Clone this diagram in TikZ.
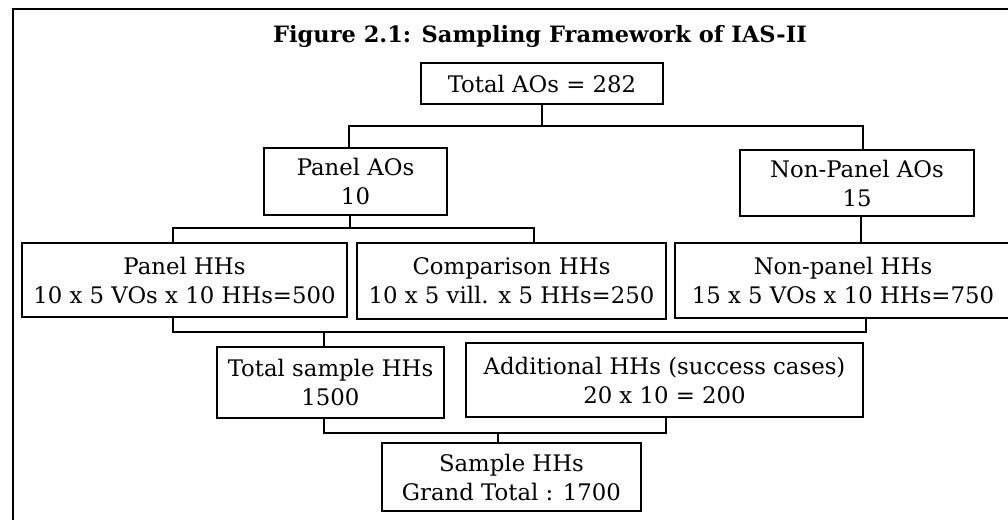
\documentclass[tikz,border=0pt]{standalone}
\usepackage{fontspec}
\setmainfont{DejaVu Serif}
\newfontfamily\headfont{DejaVu Serif}
\usetikzlibrary{calc}
\tikzset{
  box/.style={draw, line width=1.8pt, inner sep=0pt, align=center,
              font=\fontsize{22.8}{29}\selectfont},
  link/.style={line width=1.7pt},
  frame/.style={line width=2pt},
}
\begin{document}
\begin{tikzpicture}[x=1pt,y=-1pt]
  \useasboundingbox (0,0) rectangle (1008,519);
  \fill[white] (0,0) rectangle (1008,519);

  % outer frame (top and left edges)
  \draw[frame] (1012,9) -- (13,9) -- (13,523);

  % heading
  \node[anchor=base, inner sep=0pt,
        font=\headfont\fontsize{22.5}{26}\selectfont\bfseries] (title)
        at (540,42) {Figure 2.1: Sampling Framework of IAS-II};

  % boxes
  \node[box, minimum width=242pt, minimum height=41pt] (tot)  at (542,83.5)  {Total AOs = 282};
  \node[box, minimum width=183pt, minimum height=67pt] (pao)  at (355.5,181.5) {Panel AOs\\10};
  \node[box, minimum width=234pt, minimum height=66pt] (npao) at (857,183)   {Non-Panel AOs\\15};
  \node[box, minimum width=325pt, minimum height=74pt] (phh)  at (184.5,280) {Panel HHs\\10 x 5 VOs x 10 HHs=500};
  \node[box, minimum width=309pt, minimum height=76pt] (chh)  at (511.5,281) {Comparison HHs\\10 x 5 vill. x 5 HHs=250};
  \node[box, minimum width=336pt, minimum height=75pt] (nphh) at (843,280.5) {Non-panel HHs\\15 x 5 VOs x 10 HHs=750};
  \node[box, minimum width=227pt, minimum height=71pt] (tshh) at (330.5,382.5) {Total sample HHs\\1500};
  \node[box, minimum width=397pt, minimum height=74pt] (add)  at (664.5,380) {Additional HHs (success cases)\\20 x 10 = 200};
  \node[box, minimum width=259pt, minimum height=68pt] (shh)  at (511.5,477) {Sample HHs\\Grand Total : 1700};

  % bracket under the total
  \coordinate (b1L) at (349,126);
  \coordinate (b1R) at (863,126);
  \draw[link] (tot.south) -- (tot.south |- b1L);
  \draw[link] (pao.north -| b1L) -- (b1L) -- (b1R) -- (npao.north -| b1R);

  % bracket under the panel AOs
  \coordinate (b2M) at (350,228);
  \coordinate (b2L) at (173,228);
  \coordinate (b2R) at (534,228);
  \draw[link] (pao.south -| b2M) -- (b2M);
  \draw[link] (phh.north -| b2L) -- (b2L) -- (b2R) -- (chh.north -| b2R);

  % non-panel branch
  \coordinate (npdrop) at (861,230);
  \draw[link] (npao.south -| npdrop) -- (nphh.north -| npdrop);

  % bracket joining panel and non-panel households
  \coordinate (b3L) at (173,332);
  \coordinate (b3R) at (866,332);
  \coordinate (b3M) at (324,332);
  \draw[link] (phh.south -| b3L) -- (b3L) -- (b3R) -- (nphh.south -| b3R);
  \draw[link] (b3M) -- (tshh.north -| b3M);

  % bracket to the grand total
  \coordinate (b4L) at (324,433);
  \coordinate (b4R) at (666,433);
  \coordinate (b4M) at (498,433);
  \draw[link] (tshh.south -| b4L) -- (b4L) -- (b4R) -- (add.south -| b4R);
  \draw[link] (b4M) -- (shh.north -| b4M);
\end{tikzpicture}
\end{document}
